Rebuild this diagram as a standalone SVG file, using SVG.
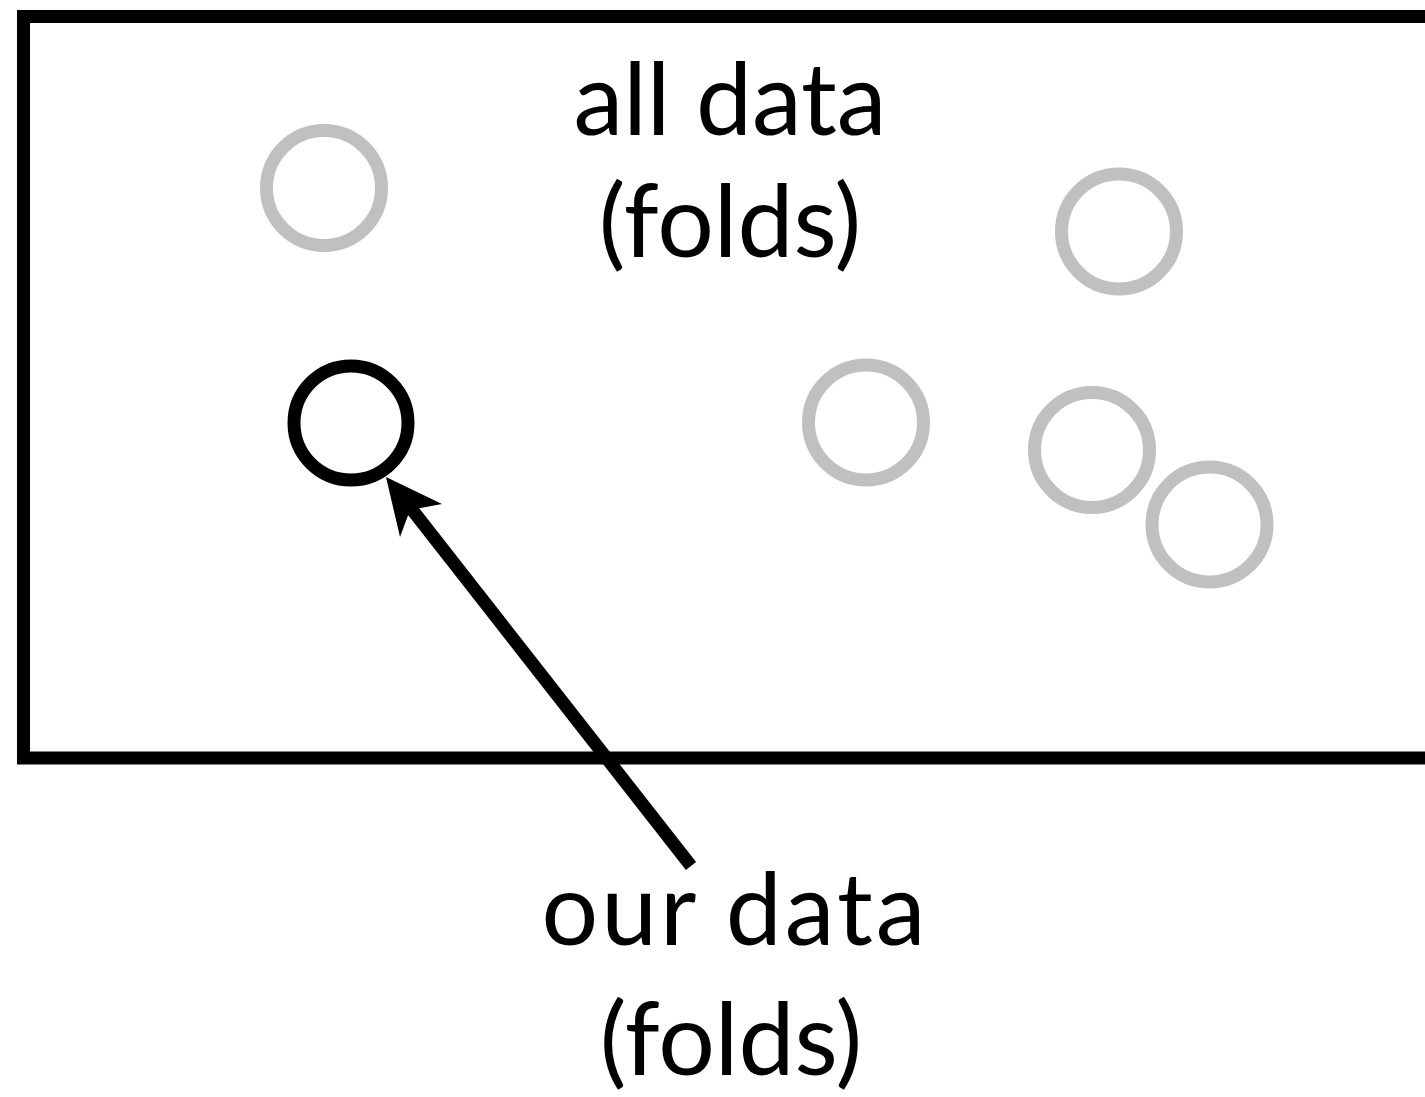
<svg xmlns="http://www.w3.org/2000/svg" width="1425" height="1097" viewBox="0 0 1425 1097">
  <style>
    .frame { fill: none; stroke: #000; stroke-width: 13; }
    .fold { fill: none; stroke: #c0c0c0; stroke-width: 13; }
    .ours { fill: none; stroke: #000; stroke-width: 13; }
    .label { font-family: Lato, "Open Sans", sans-serif; font-size: 100px; fill: #000; text-anchor: middle; }
    .wide { letter-spacing: 3px; }
    .conn { stroke: #000; stroke-width: 13; fill: none; }
  </style>
  <g id="all-data">
    <rect class="frame" x="23.5" y="16.5" width="1420" height="741.5"/>
    <text class="label" x="730" y="135">all data</text>
    <text class="label" x="730" y="257">(folds)</text>
  </g>
  <g id="fold-1"><circle class="fold" cx="324" cy="188" r="57.5"/></g>
  <g id="fold-2"><circle class="fold" cx="1119" cy="231.5" r="57.5"/></g>
  <g id="fold-3"><circle class="fold" cx="866" cy="422.5" r="57.5"/></g>
  <g id="fold-4"><circle class="fold" cx="1092" cy="450" r="57.5"/></g>
  <g id="fold-5"><circle class="fold" cx="1209.5" cy="524.5" r="57.5"/></g>
  <g id="our-fold"><circle class="ours" cx="351" cy="423" r="57"/></g>
  <g id="our-data">
    <text class="label wide" x="735" y="945">our data</text>
    <text class="label" x="731" y="1075">(folds)</text>
  </g>
  <g id="connectors">
    <line class="conn" x1="691" y1="866" x2="410" y2="507"/>
    <polygon points="386,477 442,504 410,510 400,537" fill="#000"/>
  </g>
</svg>
